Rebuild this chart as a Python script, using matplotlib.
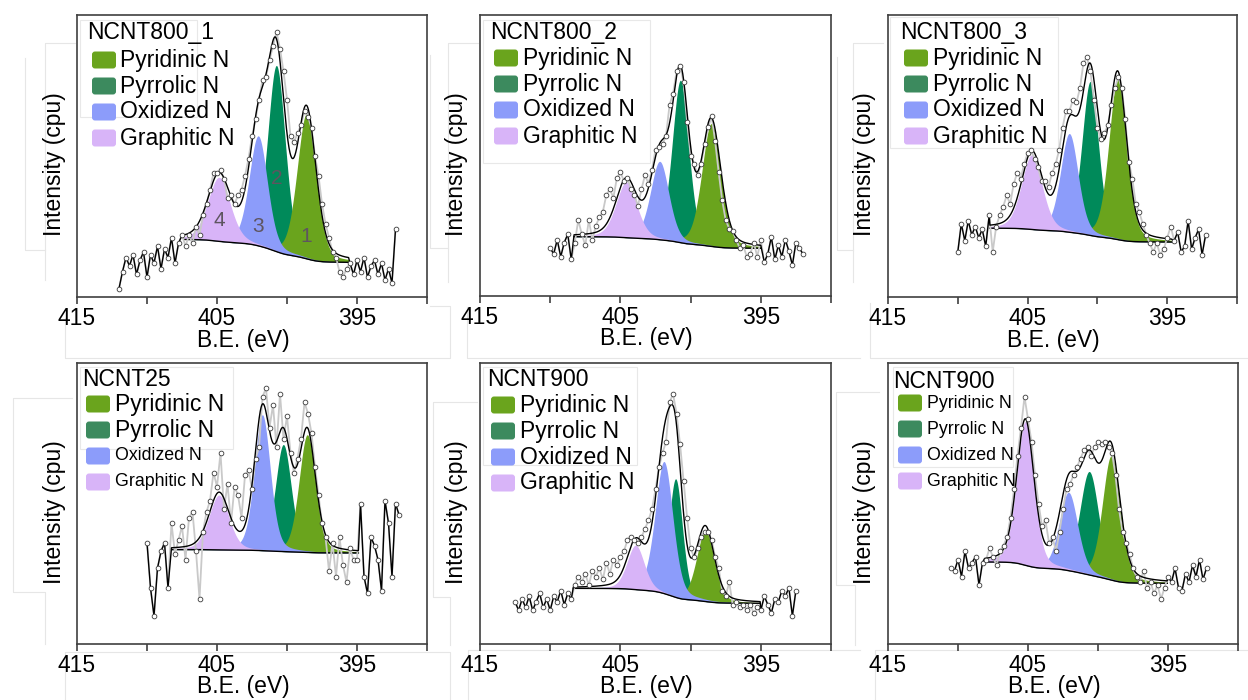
import numpy as np
import matplotlib.pyplot as plt
from matplotlib.patches import FancyBboxPatch, Rectangle
from matplotlib.lines import Line2D
from matplotlib.transforms import IdentityTransform

plt.rcParams["font.family"] = ["Liberation Sans", "DejaVu Sans"]

W, H = 1248, 700

# ---------------- DATA ----------------
titles = ["NCNT800_1", "NCNT800_2", "NCNT800_3", "NCNT25", "NCNT900", "NCNT900"]
species = ["Pyridinic N", "Pyrrolic N", "Oxidized N", "Graphitic N"]

# first B.E. of every scan (eV); points every 0.25 eV towards lower B.E.
be_start = [412.0, 410.0, 410.0, 410.0, 412.5, 410.5]
be_step = 0.25

# measured intensity (arb. units, 0-100 of the plot height)
counts_1 = [3, 9, 14, 11, 15, 8, 13, 16, 7, 15, 12, 18, 10, 17, 14, 21, 12, 19, 22, 18,
            22, 19, 25, 22, 29, 33, 38, 44, 44, 45, 42, 35, 36, 33, 36, 38, 43, 49, 57, 63,
            70, 77, 78, 84, 89, 94, 88, 80, 70, 57, 55, 58, 61, 66, 64, 60, 50, 43, 33, 26,
            21, 16, 14, 9, 7, 10, 12, 8, 13, 9, 14, 7, 11, 13, 8, 12, 6, 10, 5, 24]
counts_2 = [17, 15, 20, 14, 19, 22, 13, 19, 27, 22, 18, 27, 20, 25, 28, 30, 36, 38, 35, 42,
            44, 41, 42, 38, 36, 32, 38, 43, 40, 45, 52, 53, 54, 57, 68, 72, 80, 82, 76, 62,
            50, 47, 43, 47, 54, 60, 64, 55, 44, 34, 27, 24, 23, 20, 17, 18, 14, 15, 19, 14,
            20, 12, 15, 21, 13, 18, 14, 20, 16, 11, 19, 17, 15]
counts_3 = [16, 26, 20, 27, 22, 25, 21, 24, 18, 29, 16, 25, 29, 32, 36, 33, 40, 44, 42, 47,
            51, 52, 49, 46, 41, 41, 39, 44, 47, 52, 60, 66, 66, 70, 69, 74, 83, 85, 80, 70,
            60, 56, 58, 61, 68, 74, 78, 74, 63, 48, 42, 33, 30, 26, 22, 19, 16, 19, 15, 17,
            21, 25, 20, 23, 16, 18, 27, 17, 21, 24, 15, 22]
counts_4 = [36, 20, 10, 27, 33, 36, 20, 43, 32, 37, 42, 30, 45, 47, 33, 16, 40, 47, 51, 61,
            56, 68, 48, 57, 43, 56, 53, 45, 60, 62, 55, 66, 70, 88, 91, 77, 85, 70, 89, 73,
            81, 68, 61, 66, 73, 86, 82, 75, 63, 53, 43, 38, 26, 36, 24, 38, 28, 22, 34, 30,
            30, 50, 24, 18, 38, 35, 30, 19, 51, 43, 24, 50, 46]
counts_5 = [15, 12, 16, 13, 17, 12, 15, 18, 13, 16, 12, 17, 15, 19, 14, 18, 16, 21, 24, 22,
            25, 21, 26, 24, 27, 23, 29, 25, 30, 28, 31, 33, 37, 38, 37, 36, 38, 41, 44, 48,
            55, 63, 68, 72, 86, 89, 82, 71, 58, 45, 34, 31, 34, 38, 40, 40, 37, 31, 27, 19,
            17, 22, 14, 15, 13, 14, 12, 14, 11, 13, 12, 17, 14, 11, 16, 15, 19, 17, 20, 10,
            19]
counts_6 = [27, 26, 30, 24, 33, 27, 29, 31, 21, 29, 30, 34, 31, 28, 33, 35, 38, 45, 55, 67,
            77, 88, 80, 72, 60, 50, 42, 44, 36, 38, 33, 40, 48, 55, 57, 60, 63, 66, 69, 70,
            67, 70, 72, 71, 72, 70, 68, 60, 48, 40, 36, 32, 27, 24, 22, 26, 20, 22, 18, 21,
            16, 20, 24, 22, 27, 20, 19, 25, 22, 28, 24, 30, 23, 27]

# fitted components, order: Pyridinic, Pyrrolic, Oxidized, Graphitic
center_1 = [398.6, 400.75, 402.05, 404.85]
height_1 = [51.4, 66.0, 39.0, 22.7]
fwhm_1 = [1.6, 1.5, 1.55, 1.9]

center_2 = [398.52, 400.72, 402.2, 404.57]
height_2 = [43.7, 57.8, 27.9, 19.8]
fwhm_2 = [1.6, 1.4, 1.55, 1.75]

center_3 = [398.54, 400.51, 402.01, 404.69]
height_3 = [57.2, 54.6, 35.0, 26.5]
fwhm_3 = [1.5, 1.4, 1.5, 1.75]

center_4 = [398.55, 400.26, 401.76, 404.86]
height_4 = [41.9, 38.1, 48.4, 19.5]
fwhm_4 = [1.4, 1.35, 1.35, 1.7]

center_5 = [398.94, 401.06, 401.89, 403.91]
height_5 = [25.2, 42.2, 47.0, 15.8]
fwhm_5 = [1.5, 1.15, 1.5, 1.45]

center_6 = [399.05, 400.62, 402.1, 405.19]
height_6 = [44.2, 36.8, 27.9, 51.1]
fwhm_6 = [1.5, 1.6, 1.55, 1.45]

# Shirley background levels (high B.E. end, low B.E. end) and fit window (eV)
bg_levels = [[20.4, 12.3], [21.1, 17.0], [24.4, 19.5], [33.6, 32.4], [19.8, 14.5], [29.2, 21.6]]
fit_window = [[407.35, 395.6], [408.3, 395.0], [407.7, 394.7], [408.25, 394.9],
              [408.35, 395.05], [408.1, 395.05]]
gl_mix = 0.3  # Lorentzian share of the line shape

counts = [counts_1, counts_2, counts_3, counts_4, counts_5, counts_6]
centers = [center_1, center_2, center_3, center_4, center_5, center_6]
heights = [height_1, height_2, height_3, height_4, height_5, height_6]
fwhms = [fwhm_1, fwhm_2, fwhm_3, fwhm_4, fwhm_5, fwhm_6]

fill_colors = ["#6aa41d", "#008a5a", "#8c9cfa", "#d8b4f8"]
legend_colors = ["#6aa41d", "#3c8a5e", "#8c9cfa", "#d8b4f8"]
fill_order = [1, 0, 2, 3]

# ---------------- LAYOUT (pixels) ----------------
axes_px = [(77, 15, 427, 297), (480, 15, 831, 296), (888, 15, 1237, 297),
           (77, 363, 427, 644), (480, 363, 831, 644), (888, 363, 1238, 644)]
legend_px = [  # title x, title y, patch x, label x, first row y, row gap
    (87, 33, 92, 120, 60, 26), (490, 33, 494, 523, 58, 26), (900, 33, 904, 933, 58, 26),
    (82, 379, 86, 115, 404, 26), (487, 380, 491, 520, 405, 26), (893, 382, 898, 927, 403, 26)]
legend_sizes = [[16.5] * 4, [16.5] * 4, [16.5] * 4, [16.5, 16.5, 12.8, 12.8],
                [16.5] * 4, [12.8] * 4]
legend_frames = [(80, 20, 197, 117), (483, 20, 650, 163), (890, 17, 1058, 148),
                 (80, 367, 233, 449), (483, 367, 637, 465), (893, 367, 1013, 467)]
FS = 16.5
GHOST = "#e6e6e6"

# faint frames left over from the pasted panels
ghost_lines = [
    [(25, 58), (25, 250), (45, 250)], [(45, 280), (45, 43), (75, 43)],
    [(430, 55), (430, 248), (448, 248)], [(448, 282), (448, 43), (478, 43)],
    [(837, 57), (837, 250), (853, 250)], [(853, 282), (853, 43), (883, 43)],
    [(72, 398), (13, 398), (13, 592), (45, 592), (45, 644)],
    [(477, 402), (433, 402), (433, 597), (450, 597), (450, 645)],
    [(879, 392), (836, 392), (836, 585), (855, 585), (855, 645)],
    [(65, 318), (65, 358), (450, 358), (450, 306), (430, 306)],
    [(467, 307), (467, 358), (860, 358)], [(870, 303), (870, 358), (1248, 358)],
    [(65, 700), (65, 652), (450, 652), (450, 700)],
    [(468, 700), (468, 650), (860, 650)], [(875, 700), (875, 650), (1248, 650)],
]


def line_shape(x, c, h, w):
    sig = w / 2.3548
    g = np.exp(-(x - c) ** 2 / (2 * sig ** 2))
    lor = 1.0 / (1.0 + ((x - c) / (w / 2)) ** 2)
    return h * ((1 - gl_mix) * g + gl_mix * lor)


fig = plt.figure(figsize=(W / 100, H / 100), dpi=100)

for pts in ghost_lines:
    xs = [p[0] for p in pts]
    ys = [H - p[1] for p in pts]
    fig.add_artist(Line2D(xs, ys, color=GHOST, lw=0.8, transform=IdentityTransform(),
                          zorder=-1))

for i in range(6):
    l, t, r, b = axes_px[i]
    ax = fig.add_axes([l / W, 1 - b / H, (r - l) / W, (b - t) / H])

    y = np.array(counts[i], dtype=float)
    be = be_start[i] - be_step * np.arange(len(y))
    hi, lo = fit_window[i]

    grid = np.linspace(lo, hi, 700)
    comps = [line_shape(grid, c, h, w) for c, h, w in zip(centers[i], heights[i], fwhms[i])]
    total = np.sum(comps, axis=0)
    area = np.concatenate([[0], np.cumsum((total[1:] + total[:-1]) / 2 * np.diff(grid))])
    left_lvl, right_lvl = bg_levels[i]
    bg = right_lvl + (left_lvl - right_lvl) * area / area[-1]
    env = bg + total

    # faint legend frame
    fx0, fy0, fx1, fy1 = legend_frames[i]
    ax.add_patch(Rectangle((fx0, H - fy1), fx1 - fx0, fy1 - fy0, fill=False, ec="#e8e8e8",
                           lw=0.8, transform=IdentityTransform(), zorder=0.5))

    for k in fill_order:
        ax.fill_between(grid, bg, bg + comps[k], color=fill_colors[k], lw=0, zorder=1)
    ax.plot(grid, bg, color="black", lw=1.0, zorder=2)

    # raw scan
    ax.plot(be, y, color="#c9c9c9", lw=1.3, zorder=2)

    # fit line, raw data outside the window
    lm = be > hi
    rm = be < lo
    bx = np.concatenate([be[lm], grid[::-1], be[rm]])
    by = np.concatenate([y[lm], env[::-1], y[rm]])
    ax.plot(bx, by, color="black", lw=1.0, zorder=3)

    ax.plot(be, y, ls="none", marker="o", ms=3.4, mfc="white", mec="#3a3a3a",
            mew=0.6, zorder=4)

    ax.set_xlim(415, 390)
    ax.set_ylim(0, 100)
    ax.set_xticks([415, 410, 405, 400, 395, 390])
    ax.set_xticklabels(["415", "", "405", "", "395", ""])
    ax.set_yticks([])
    ax.tick_params(axis="x", direction="out", length=5, width=1.2, color="#404040",
                   labelsize=FS, pad=2)
    for s in ax.spines.values():
        s.set_color("#404040")
        s.set_linewidth(1.2)

    xl = ax.set_xlabel("B.E. (eV)", fontsize=FS)
    xl.set_va("center")
    ax.xaxis.set_label_coords(0.475, -43 / (b - t))
    yl = ax.set_ylabel("Intensity (cpu)", fontsize=FS)
    yl.set_va("center")
    ax.yaxis.set_label_coords(-23 / (r - l), 0.47)

    if i == 0:
        for num, k, ypos in zip(["1", "2", "3", "4"], [0, 1, 2, 3], [21.4, 42.0, 24.9, 27.3]):
            ax.text(centers[i][k], ypos, num, fontsize=15, color="#5e5560",
                    ha="center", va="center", zorder=5)

    # legend
    tx, ty, px, lx, ry0, gap = legend_px[i]
    fig.text(tx / W, 1 - ty / H, titles[i], fontsize=FS, ha="left", va="center")
    for k in range(4):
        ry = ry0 + gap * k
        fig.add_artist(FancyBboxPatch((px, H - ry - 8.5), 24, 17,
                                      boxstyle="round,pad=0,rounding_size=3",
                                      transform=IdentityTransform(),
                                      fc=legend_colors[k], ec="none"))
        fig.text(lx / W, 1 - ry / H, species[k], fontsize=legend_sizes[i][k],
                 ha="left", va="center")

fig.savefig("out.png", dpi=100)
